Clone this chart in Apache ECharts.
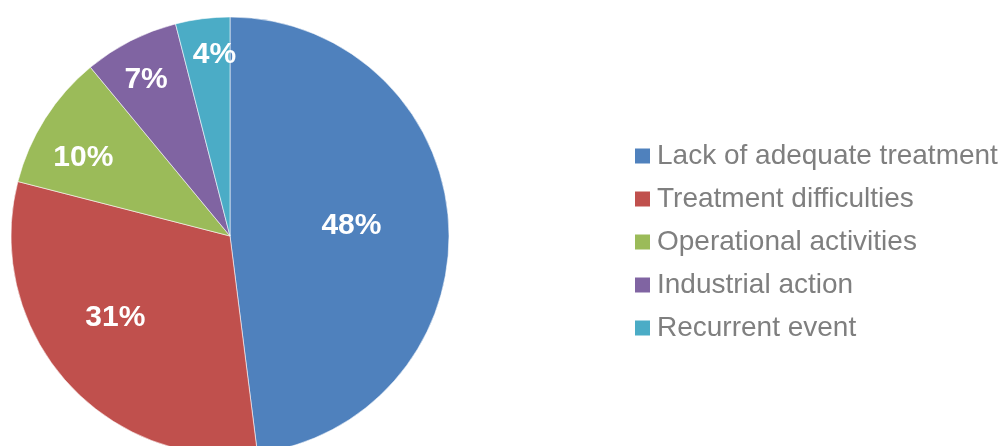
<!DOCTYPE html>
<html>
<head>
<meta charset="utf-8">
<script src="https://cdn.jsdelivr.net/npm/echarts@6/dist/echarts.min.js"></script>
<style>
  html, body { margin: 0; padding: 0; background: #ffffff; }
  #chart { width: 1002px; height: 446px; }
</style>
</head>
<body>
<div id="chart"></div>
<script>
// Causes and their shares (percent)
const categories = ['Lack of adequate treatment', 'Treatment difficulties', 'Operational activities', 'Industrial action', 'Recurrent event'];
const shares = [48, 31, 10, 7, 4];
const sliceColors = ['#4f81bd', '#c0504d', '#9bbb59', '#8064a2', '#4bacc6'];
// Placement of each percent label: fraction of radius, and a small turn (degrees) off the slice middle
const labelRadiusFraction = [0.557, 0.639, 0.762, 0.816, 0.837];
const labelAngleShift = [-2.0, 6.4, -3.9, -1.0, 2.35];

const center = [230, 236];
const radius = 219;

const total = shares.reduce((a, b) => a + b, 0);
const midAngles = [];
let acc = 0;
shares.forEach(v => {
  midAngles.push((acc + v / 2) / total * 2 * Math.PI);
  acc += v;
});

const chart = echarts.init(document.getElementById('chart'), null, { renderer: 'canvas' });
chart.setOption({
  animation: false,
  color: sliceColors,
  legend: {
    orient: 'vertical',
    left: 635,
    top: 141,
    padding: 0,
    icon: 'rect',
    itemWidth: 15,
    itemHeight: 15,
    itemGap: 13,
    itemStyle: { borderWidth: 0 },
    textStyle: {
      fontFamily: 'Liberation Sans, Arial, sans-serif',
      fontSize: 28,
      lineHeight: 30,
      color: '#7f7f7f',
      padding: [0, 0, 0, 2]
    },
    data: categories
  },
  series: [{
    type: 'pie',
    center: center,
    radius: radius,
    startAngle: 90,
    clockwise: true,
    avoidLabelOverlap: false,
    itemStyle: { borderColor: 'rgba(255,255,255,0.7)', borderWidth: 0.8 },
    label: {
      show: true,
      position: 'inside',
      formatter: '{c}%',
      color: '#ffffff',
      fontFamily: 'Liberation Sans, Arial, sans-serif',
      fontWeight: 'bold',
      fontSize: 30
    },
    labelLine: { show: false },
    labelLayout: function (params) {
      const i = params.dataIndex;
      const r = radius * labelRadiusFraction[i];
      const a = midAngles[i] + labelAngleShift[i] * Math.PI / 180;
      return {
        x: center[0] + r * Math.sin(a),
        y: center[1] - r * Math.cos(a) + 1.5,
        align: 'center',
        verticalAlign: 'middle'
      };
    },
    emphasis: { disabled: true },
    data: categories.map((name, i) => ({ name: name, value: shares[i] }))
  }]
});
</script>
</body>
</html>
